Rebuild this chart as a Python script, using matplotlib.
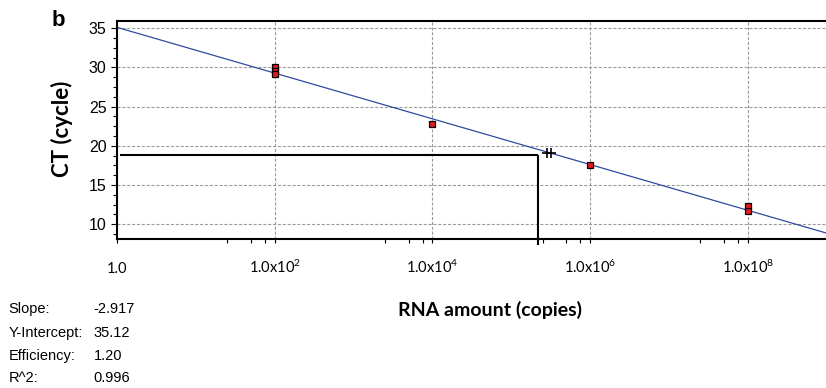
import matplotlib
matplotlib.use("Agg")
import matplotlib.pyplot as plt
from matplotlib.ticker import FixedLocator, FixedFormatter, NullFormatter
import numpy as np

# ---- data ----
std_copies = [1e2, 1e2, 1e2, 1e4, 1e6, 1e8, 1e8]
std_ct = [30.1, 29.6, 29.15, 22.8, 17.6, 12.33, 11.7]
unk_copies = [2.87e5, 3.22e5]
unk_ct = [19.1, 19.1]
slope = -2.917
intercept = 35.12
threshold_ct = 18.9
threshold_copies = 2.17e5
x_major = [1e0, 1e2, 1e4, 1e6, 1e8]
x_labels = ["1.0", "1.0x10$^{2}$", "1.0x10$^{4}$", "1.0x10$^{6}$", "1.0x10$^{8}$"]
x_minor_mult = [25, 50, 75]
y_major = [10, 15, 20, 25, 30, 35]
stats_names = ["Slope:", "Y-Intercept:", "Efficiency:", "R^2:"]
stats_values = ["-2.917", "35.12", "1.20", "0.996"]

plt.rcParams['mathtext.default'] = 'regular'
plt.rcParams['lines.scale_dashes'] = False

W, H = 826, 388
fig = plt.figure(figsize=(W / 100, H / 100), dpi=100)
ax = fig.add_axes([117 / W, 1 - 239 / H, (W - 117) / W, (239 - 21) / H])

xmin, xmax = 1.0, 10 ** 8.99
ymin, ymax = 8.125, 35.93
ax.set_xscale('log')
ax.set_xlim(xmin, xmax)
ax.set_ylim(ymin, ymax)

# grid
grid_kw = dict(color='#9a9a9a', lw=0.8, linestyle=(0, (2.2, 1.3)), zorder=0)
for xv in x_major[1:]:
    ax.axvline(xv, **grid_kw)
for yv in y_major:
    ax.axhline(yv, **grid_kw)

# regression line
xs = np.logspace(0, np.log10(xmax), 50)
ax.plot(xs, intercept + slope * np.log10(xs), color='#2f4b9e', lw=0.9, zorder=2)

# threshold lines
ax.plot([10 ** 0.038, threshold_copies], [threshold_ct, threshold_ct], color='black', lw=1.5, zorder=3, solid_capstyle='butt')
ax.plot([threshold_copies, threshold_copies], [threshold_ct, ymin - 0.8], color='black', lw=1.5,
        zorder=3, clip_on=False, solid_capstyle='butt')

# standards
ax.plot(std_copies, std_ct, linestyle='none', marker='s', markersize=5.0, markerfacecolor='#e31a1c',
        markeredgecolor='black', markeredgewidth=0.9, zorder=5)
# unknowns
ax.plot(unk_copies, unk_ct, linestyle='none', marker='+', markersize=6.5, markeredgewidth=1.2,
        color='black', zorder=5)

# spines
for s in ['left', 'bottom', 'top']:
    ax.spines[s].set_linewidth(1.5)
ax.spines['right'].set_visible(False)

# ticks
ax.xaxis.set_major_locator(FixedLocator(x_major))
ax.xaxis.set_major_formatter(FixedFormatter(x_labels))
minors = [m * b for b in x_major for m in x_minor_mult if m * b < xmax]
ax.xaxis.set_minor_locator(FixedLocator(minors))
ax.xaxis.set_minor_formatter(NullFormatter())
ax.yaxis.set_major_locator(FixedLocator(y_major))
ax.yaxis.set_minor_locator(FixedLocator(np.arange(8.75, 35.9, 1.25)))
ax.tick_params(axis='x', which='both', direction='out', length=3, width=0.8, top=False, pad=21.5,
               labelsize=10.5)
ax.tick_params(axis='y', which='major', direction='out', length=4.5, width=0.8, pad=3, labelsize=11.5)
ax.tick_params(axis='y', which='minor', direction='out', length=3, width=0.8)
for lab in ax.get_xticklabels():
    lab.set_fontfamily(['Lato', 'DejaVu Sans'])
    lab.set_verticalalignment('baseline')
for lab in ax.get_yticklabels():
    lab.set_fontfamily(['Liberation Sans', 'DejaVu Sans'])

# labels
fig.text(52 / W, 1 - 20 / H, 'b', fontsize=16, fontweight='bold', family=['Liberation Sans', 'DejaVu Sans'],
         ha='left', va='center')
fig.text(62 / W, 1 - 129 / H, 'CT (cycle)', rotation=90, fontsize=16, fontweight='bold',
         family=['Lato', 'DejaVu Sans'], ha='center', va='center')
fig.text(490 / W, 1 - 310 / H, 'RNA amount (copies)', fontsize=14, fontweight='bold',
         family=['Lato', 'DejaVu Sans'], ha='center', va='center')

rows_y = [308.7, 332.7, 356.0, 378.5]
narrow = ['Liberation Sans Narrow', 'Liberation Sans', 'DejaVu Sans']
for name, val, yy in zip(stats_names, stats_values, rows_y):
    fig.text(8.5 / W, 1 - yy / H, name, fontsize=10.5, family=narrow, ha='left', va='center')
    fig.text(93.5 / W, 1 - yy / H, val, fontsize=10.5, family=narrow, ha='left', va='center')

fig.savefig('out.png', dpi=100)
